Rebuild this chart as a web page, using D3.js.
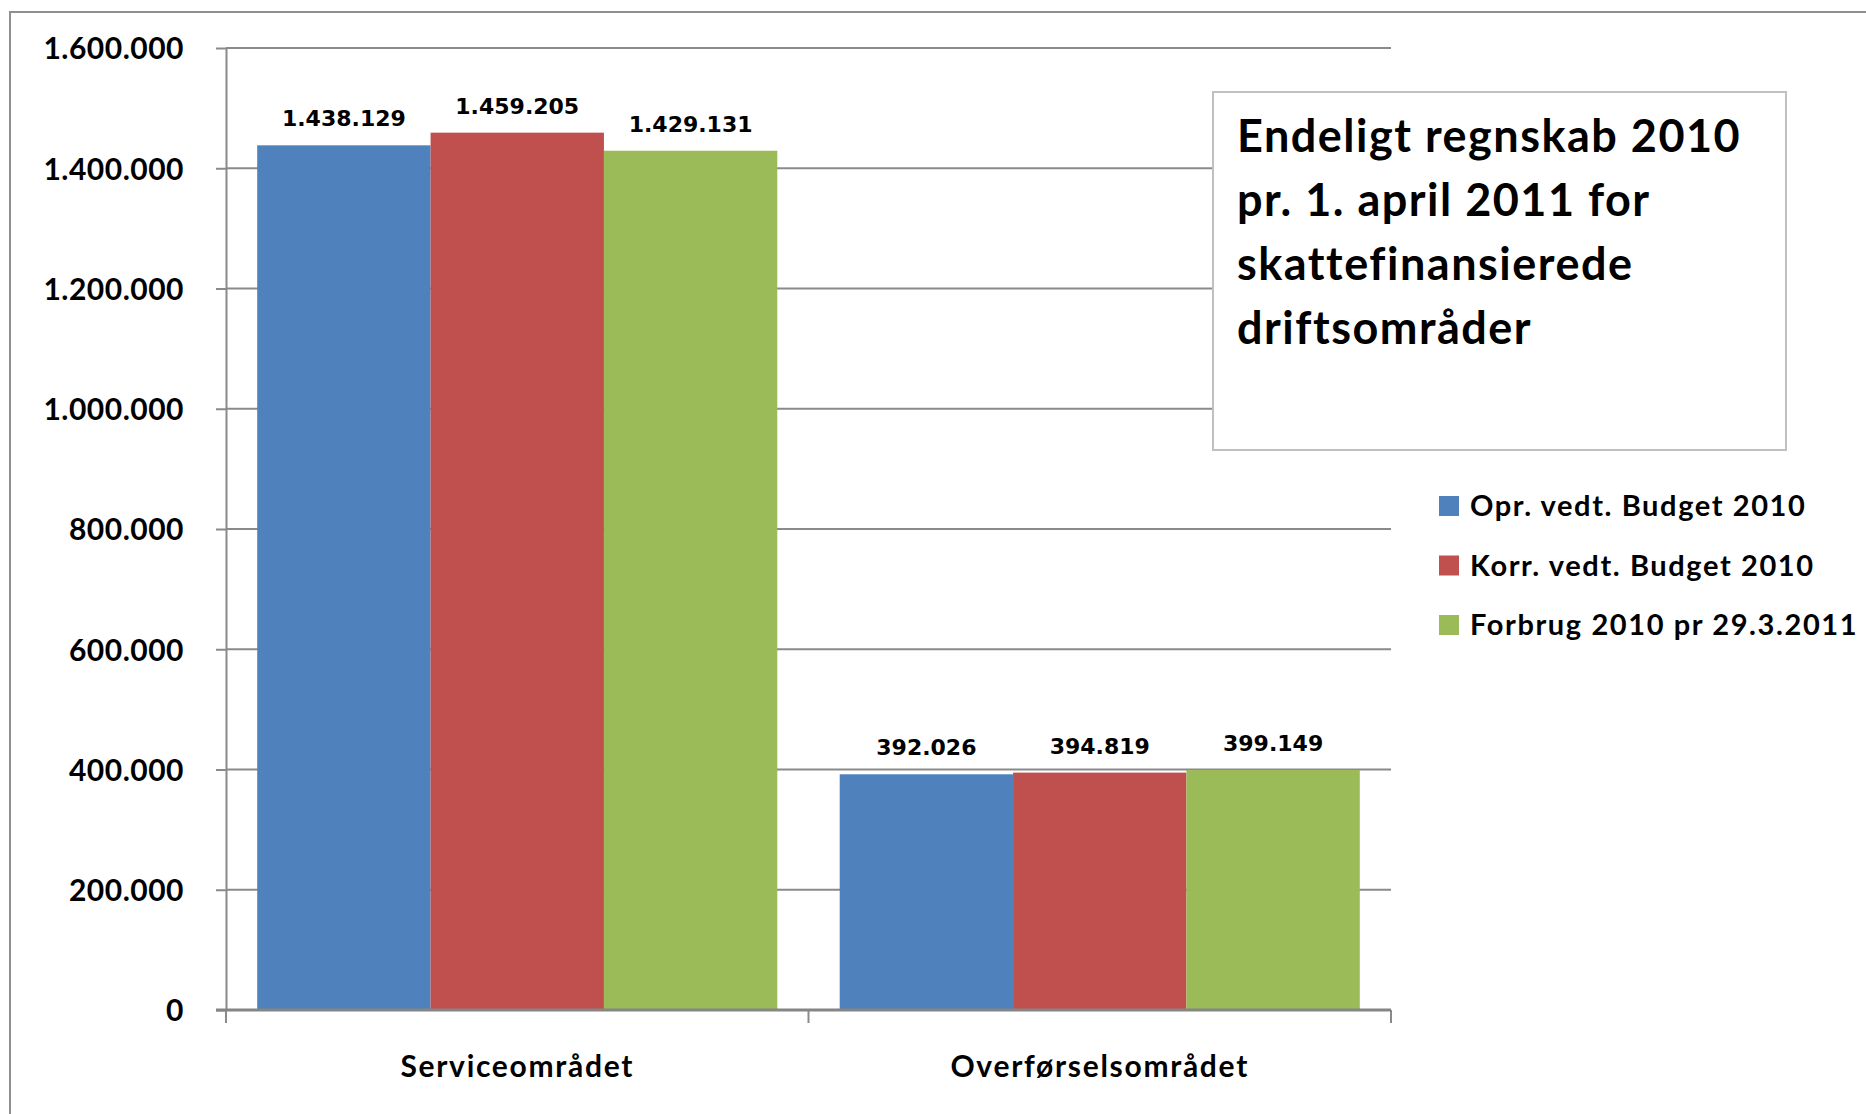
<!DOCTYPE html>
<html>
<head>
<meta charset="utf-8">
<script src="https://cdn.jsdelivr.net/npm/d3@7"></script>
<style>
  html, body { margin: 0; padding: 0; background: #fff; overflow: hidden; }
  svg { display: block; }
  .lato { font-family: Lato, "Open Sans", sans-serif; font-weight: 700; fill: #000; }
  .val { font-family: "DejaVu Sans", sans-serif; font-weight: 700; fill: #000; }
</style>
</head>
<body>
<div id="chart"></div>
<script>
// ---------- data ----------
const categories = ['Serviceområdet', 'Overførselsområdet'];
const seriesNames = ['Opr. vedt. Budget 2010', 'Korr. vedt. Budget 2010', 'Forbrug 2010 pr 29.3.2011'];
const oprBudget = [1438129, 392026];
const korrBudget = [1459205, 394819];
const forbrug = [1429131, 399149];
const yTicks = [0, 200000, 400000, 600000, 800000, 1000000, 1200000, 1400000, 1600000];
const titleLines = ['Endeligt regnskab 2010', 'pr. 1. april 2011 for', 'skattefinansierede', 'driftsområder'];
const colors = ['#4F81BD', '#C0504D', '#9BBB59'];

const width = 1866, height = 1114;
const plot = { left: 226, right: 1391, top: 48, bottom: 1010 };
const grey = '#8a8a8a';

const dk = d3.formatLocale({ decimal: ',', thousands: '.', grouping: [3], currency: ['', ' kr'] });
const fmt = dk.format(',d');

const svg = d3.select('#chart').append('svg')
    .attr('width', width)
    .attr('height', height);

// outer chart border (runs off the right and bottom edges)
svg.append('rect')
    .attr('x', 10).attr('y', 12)
    .attr('width', 2000).attr('height', 2000)
    .attr('fill', 'none')
    .attr('stroke', '#8f8f8f')
    .attr('stroke-width', 2);

// scales
const y = d3.scaleLinear().domain([0, 1600000]).range([plot.bottom, plot.top]);
const x0 = d3.scaleBand().domain(categories).range([plot.left, plot.right]).padding(0);
const x1 = d3.scaleBand().domain(seriesNames).range([0, x0.bandwidth()])
    .paddingInner(0).paddingOuter(0.18);

// gridlines
svg.append('g')
    .selectAll('line')
    .data(yTicks.filter(d => d > 0))
    .join('line')
    .attr('x1', plot.left).attr('x2', plot.right)
    .attr('y1', d => y(d)).attr('y2', d => y(d))
    .attr('stroke', grey)
    .attr('stroke-width', 2);

// y axis
const yAxis = svg.append('g')
    .attr('transform', `translate(${plot.left},0)`)
    .call(d3.axisLeft(y).tickValues(yTicks).tickFormat(fmt).tickSize(10).tickSizeOuter(0).tickPadding(32));
yAxis.select('.domain').attr('stroke', grey).attr('stroke-width', 2);
yAxis.selectAll('.tick line').attr('stroke', grey).attr('stroke-width', 2);
yAxis.selectAll('.tick text')
    .attr('class', 'lato')
    .attr('font-size', 30)
    .attr('letter-spacing', 0.5)
    .attr('dy', '0.36em');

// bars
const rows = categories.map((c, i) => ({
    cat: c,
    vals: [oprBudget[i], korrBudget[i], forbrug[i]]
}));

const groups = svg.append('g')
    .selectAll('g')
    .data(rows)
    .join('g')
    .attr('transform', d => `translate(${x0(d.cat)},0)`);

groups.selectAll('rect')
    .data(d => d.vals.map((v, j) => ({ name: seriesNames[j], v, j })))
    .join('rect')
    .attr('x', d => x1(d.name))
    .attr('y', d => y(d.v))
    .attr('width', x1.bandwidth())
    .attr('height', d => y(0) - y(d.v))
    .attr('fill', d => colors[d.j]);

groups.selectAll('text')
    .data(d => d.vals.map((v, j) => ({ name: seriesNames[j], v, j })))
    .join('text')
    .attr('class', 'val')
    .attr('x', d => x1(d.name) + x1.bandwidth() / 2)
    .attr('y', d => y(d.v) - 19)
    .attr('text-anchor', 'middle')
    .attr('font-size', 22)
    .text(d => fmt(d.v));

// x axis
const xAxis = svg.append('g')
    .attr('transform', `translate(0,${plot.bottom})`)
    .call(d3.axisBottom(x0).tickSize(0).tickPadding(0));
xAxis.select('.domain').remove();
xAxis.selectAll('.tick text').remove();

const xEdges = [plot.left].concat(categories.map(c => x0(c) + x0.bandwidth()));
xAxis.selectAll('line.sep')
    .data(xEdges)
    .join('line')
    .attr('class', 'sep')
    .attr('x1', d => d).attr('x2', d => d)
    .attr('y1', 0).attr('y2', 13)
    .attr('stroke', grey)
    .attr('stroke-width', 2);

xAxis.append('line')
    .attr('x1', plot.left - 10).attr('x2', plot.right)
    .attr('y1', 0).attr('y2', 0)
    .attr('stroke', '#858585')
    .attr('stroke-width', 3);

xAxis.selectAll('text.cat')
    .data(categories)
    .join('text')
    .attr('class', 'cat lato')
    .attr('x', d => x0(d) + x0.bandwidth() / 2)
    .attr('y', 67)
    .attr('text-anchor', 'middle')
    .attr('font-size', 30)
    .attr('letter-spacing', 1.7)
    .text(d => d);

// title box
const tbox = svg.append('g');
tbox.append('rect')
    .attr('x', 1213).attr('y', 92)
    .attr('width', 573).attr('height', 358)
    .attr('fill', '#fff')
    .attr('stroke', '#c0c0c0')
    .attr('stroke-width', 2);
tbox.selectAll('text')
    .data(titleLines)
    .join('text')
    .attr('class', 'lato')
    .attr('x', 1237)
    .attr('y', (d, i) => 152 + i * 64)
    .attr('font-size', 45)
    .attr('letter-spacing', 1.5)
    .text(d => d);

// legend
const legend = svg.append('g')
    .attr('transform', 'translate(1439,506)')
    .selectAll('g')
    .data(seriesNames)
    .join('g')
    .attr('transform', (d, i) => `translate(0,${i * 59.5})`);
legend.append('rect')
    .attr('x', 0).attr('y', -10)
    .attr('width', 20).attr('height', 20)
    .attr('fill', (d, i) => colors[i]);
legend.append('text')
    .attr('class', 'lato')
    .attr('x', 31)
    .attr('y', 10)
    .attr('font-size', 29)
    .attr('letter-spacing', 1.6)
    .text(d => d);
</script>
</body>
</html>
